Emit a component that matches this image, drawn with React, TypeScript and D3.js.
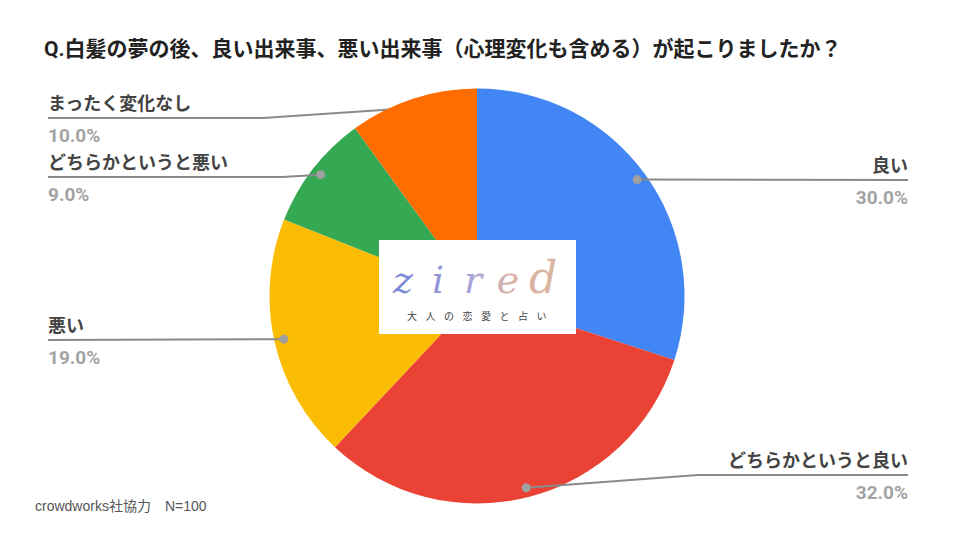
import React from 'react';
import * as d3 from 'd3';

const categories = ['良い', 'どちらかというと良い', '悪い', 'どちらかというと悪い', 'まったく変化なし'];
const values = [30, 32, 19, 9, 10];
const colors = ['#4285f4', '#ea4335', '#fbbc04', '#34a853', '#ff6d01'];

const title = 'Q.白髪の夢の後、良い出来事、悪い出来事（心理変化も含める）が起こりましたか？';
const footer = 'crowdworks社協力　N=100';
const logoLetters = ['z', 'i', 'r', 'e', 'd'];
const logoSub = '大人の恋愛と占い';

const W = 960;
const H = 540;
const cx = 477;
const cy = 296;
const R = 207.5;
const dotR = 198;

// label layout: side, line y, kink x (where the line leaves the horizontal)
const labelLayout = [
  { side: 'right', y: 180, kink: null as number | null },
  { side: 'right', y: 475, kink: 698 },
  { side: 'left', y: 340, kink: null },
  { side: 'left', y: 177, kink: 282 },
  { side: 'left', y: 118, kink: 263 },
];

const font = "Roboto, 'Noto Sans CJK JP', sans-serif";

const App: React.FC = () => {
  const data = categories.map((c, i) => ({ name: c, value: values[i], color: colors[i] }));
  const pie = d3.pie<typeof data[0]>().sort(null).value(d => d.value);
  const arcs = pie(data);
  const arc = d3.arc<d3.PieArcDatum<typeof data[0]>>().innerRadius(0).outerRadius(R);
  const dotArc = d3.arc<d3.PieArcDatum<typeof data[0]>>().innerRadius(dotR).outerRadius(dotR);
  const total = d3.sum(values);
  const fmt = d3.format('.1f');

  const leftX = 48;
  const rightX = 908;

  return (
    <svg width={W} height={H} style={{ position: 'absolute', left: 0, top: 0, background: '#fff' }}>
      <defs>
        <linearGradient id="logoGrad" x1="400" x2="560" y1="0" y2="0" gradientUnits="userSpaceOnUse">
          <stop offset="0" stopColor="#7d88d8" />
          <stop offset="0.45" stopColor="#a9a3d8" />
          <stop offset="0.7" stopColor="#dcb3a6" />
          <stop offset="1" stopColor="#d8b69e" />
        </linearGradient>
      </defs>
      <rect width={W} height={H} fill="#fff" />
      <text x={44} y={56} fontFamily={font} fontSize={21} fontWeight="bold" fill="#222">
        {title}
      </text>

      {/* leader line for the top slice is drawn below the pie */}
      {arcs.map((a, i) => {
        const L = labelLayout[i];
        if (i !== 4) return null;
        const [dx, dy] = dotArc.centroid(a);
        return (
          <path key={'u' + i}
            d={`M${leftX},${L.y}L${L.kink},${L.y}L${cx + dx},${cy + dy}`}
            fill="none" stroke="#8a8a8a" strokeWidth={2} />
        );
      })}

      <g transform={`translate(${cx},${cy})`}>
        {arcs.map((a, i) => (
          <path key={i} d={arc(a) || ''} fill={a.data.color} />
        ))}
      </g>

      {arcs.map((a, i) => {
        const L = labelLayout[i];
        const [dx, dy] = dotArc.centroid(a);
        const px = cx + dx;
        const py = cy + dy;
        const endX = L.side === 'right' ? rightX : leftX;
        const anchor = L.side === 'right' ? 'end' : 'start';
        const pct = fmt((a.data.value / total) * 100) + '%';
        const path = L.kink != null
          ? `M${px},${py}L${L.kink},${L.y}L${endX},${L.y}`
          : `M${px},${py}L${endX},${L.y}`;
        return (
          <g key={'l' + i}>
            {i !== 4 && <path d={path} fill="none" stroke="#8a8a8a" strokeWidth={2} />}
            {i !== 4 && <circle cx={px} cy={py} r={4.5} fill="#a0a0a0" />}
            <text x={endX} y={L.y - 8} textAnchor={anchor} fontFamily={font}
              fontSize={18} fontWeight="bold" fill="#444">{a.data.name}</text>
            <text x={endX} y={L.y + 24} textAnchor={anchor} fontFamily={font}
              fontSize={19} fontWeight="bold" fill="#a3a3a3">{pct}</text>
          </g>
        );
      })}

      {/* center logo */}
      <rect x={379} y={240} width={197} height={94} fill="#fff" />
      {logoLetters.map((ch, i) => (
        <text key={ch} x={403 + i * 35} y={293} textAnchor="middle"
          fontFamily="'DejaVu Serif', 'Liberation Serif', serif" fontStyle="italic"
          fontSize={ch === 'd' ? 44 : 38} fontWeight="300" fill="url(#logoGrad)">{ch}</text>
      ))}
      <text x={481} y={320} textAnchor="middle" fontFamily={font} fontSize={10}
        letterSpacing={8.5} fill="#444">{logoSub}</text>

      <text x={35} y={511} fontFamily="'Liberation Sans', 'Noto Sans CJK JP', sans-serif"
        fontSize={14} fill="#555">{footer}</text>
    </svg>
  );
};

export default App;
